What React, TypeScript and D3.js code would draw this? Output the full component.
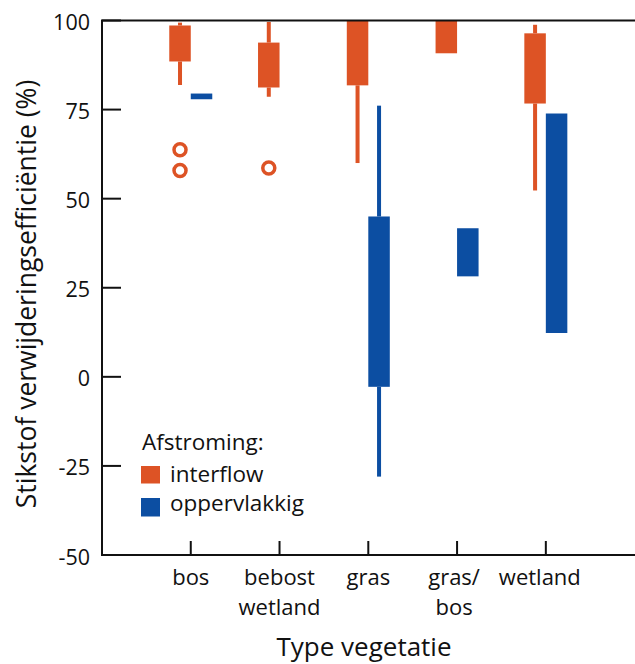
import React from "react";
import * as d3 from "d3";

const categories: string[][] = [["bos"], ["bebost", "wetland"], ["gras"], ["gras/", "bos"], ["wetland"]];
const yTicks = [100, 75, 50, 25, 0, -25, -50];

// interflow (orange)
const interflowQ1 = [88.5, 81.2, 81.8, 90.8, 76.7];
const interflowQ3 = [98.6, 93.8, 100, 100, 96.4];
const interflowMin: (number | null)[] = [81.9, 78.6, 60.0, null, 52.3];
const interflowMax: (number | null)[] = [99.4, 99.6, null, null, 98.8];
const interflowOutliers: number[][] = [[63.7, 57.9], [58.6], [], [], []];

// oppervlakkig (blue)
const opQ1: (number | null)[] = [77.9, null, -2.8, 28.2, 12.3];
const opQ3: (number | null)[] = [79.5, null, 45.0, 41.7, 73.9];
const opMin: (number | null)[] = [null, null, -28.0, null, null];
const opMax: (number | null)[] = [null, null, 76.1, null, null];

const ORANGE = "#DD5325";
const BLUE = "#0C4EA2";
const FONT = "'Open Sans', 'Noto Sans', sans-serif";

export default function App() {
  const W = 635, H = 664;
  const left = 102, top = 20.5, bottom = 555;
  const x = d3.scaleLinear().domain([0, 6]).range([left, 634.6]);
  const y = d3.scaleLinear().domain([-50, 100]).range([bottom, top]);
  const bw = 21.5;
  const ww = 4;

  const series = [
    { q1: interflowQ1, q3: interflowQ3, mn: interflowMin, mx: interflowMax, color: ORANGE, off: -bw },
    { q1: opQ1, q3: opQ3, mn: opMin, mx: opMax, color: BLUE, off: 0 },
  ];

  return (
    <svg width={W} height={H} style={{ position: "absolute", left: 0, top: 0, display: "block" }} fontFamily={FONT}>
      <rect x={0} y={0} width={W} height={H} fill="#fff" />
      {/* marks */}
      {series.map((s, si) =>
        categories.map((_, i) => {
          const cx = x(i + 1) + s.off;
          const q1 = s.q1[i], q3 = s.q3[i];
          if (q1 == null || q3 == null) return null;
          const els: React.ReactNode[] = [];
          const mn = s.mn[i], mx = s.mx[i];
          if (mn != null) els.push(<rect key="wl" x={cx + bw / 2 - ww / 2} y={y(q1)} width={ww} height={y(mn) - y(q1)} fill={s.color} />);
          if (mx != null) els.push(<rect key="wh" x={cx + bw / 2 - ww / 2} y={y(mx)} width={ww} height={y(q3) - y(mx)} fill={s.color} />);
          els.push(<rect key="b" x={cx} y={y(q3)} width={bw} height={y(q1) - y(q3)} fill={s.color} />);
          return <g key={`${si}-${i}`}>{els}</g>;
        })
      )}
      {interflowOutliers.map((arr, i) =>
        arr.map((v, j) => (
          <circle key={`o${i}-${j}`} cx={x(i + 1) - bw / 2} cy={y(v)} r={6} fill="none" stroke={ORANGE} strokeWidth={3.5} />
        ))
      )}
      {/* frame: left, top, bottom */}
      <path d={`M${W},${top}H${left}V${bottom}H${W}`} fill="none" stroke="#111" strokeWidth={2} />
      {/* y ticks */}
      {yTicks.map((t) => (
        <g key={t}>
          <line x1={left} x2={left + 19} y1={y(t)} y2={y(t)} stroke="#111" strokeWidth={2} />
          <text x={90} y={y(t) + 2} dy="0.35em" textAnchor="end" fontSize={21.5} fill="#111">{t}</text>
        </g>
      ))}
      {/* x ticks */}
      {categories.map((c, i) => (
        <g key={i}>
          <line x1={x(i + 1)} x2={x(i + 1)} y1={bottom} y2={bottom - 14} stroke="#111" strokeWidth={2} />
          {c.map((line, k) => (
            <text key={k} x={x(i + 1) - (i === 4 ? 6 : i === 3 ? 3 : 0)} y={585 + k * 30} textAnchor="middle" fontSize={22} fill="#111">{line}</text>
          ))}
        </g>
      ))}
      {/* axis titles */}
      <text x={364} y={656} textAnchor="middle" fontSize={26} fill="#111">Type vegetatie</text>
      <text transform={`translate(36, 294) rotate(-90)`} textAnchor="middle" fontSize={26.5} fill="#111">Stikstof verwijderingsefficiëntie (%)</text>
      {/* legend */}
      <text x={142} y={450} fontSize={22.5} fill="#111">Afstroming:</text>
      <rect x={141} y={466} width={19} height={17.5} fill={ORANGE} />
      <text x={170} y={482} fontSize={22.5} fill="#111">interflow</text>
      <rect x={141} y={498} width={19} height={18.5} fill={BLUE} />
      <text x={170} y={511} fontSize={22.5} fill="#111">oppervlakkig</text>
    </svg>
  );
}
